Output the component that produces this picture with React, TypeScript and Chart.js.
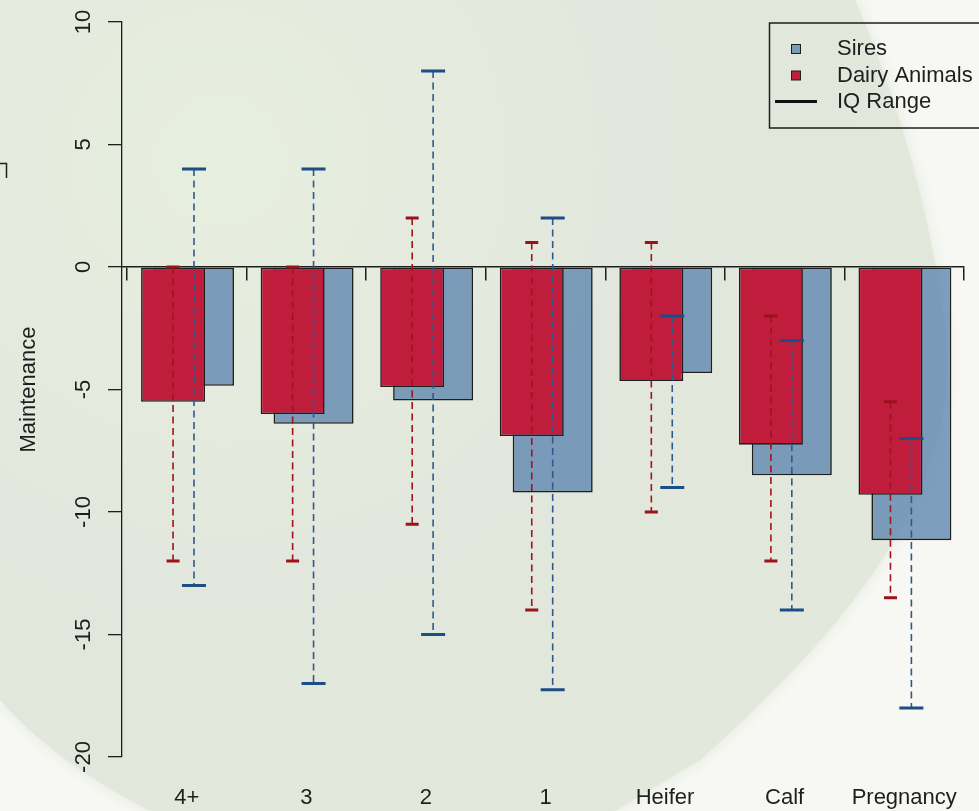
import React, { useEffect, useRef } from "react";
import { Chart, registerables } from "chart.js";

Chart.register(...registerables);

// ---------- data ----------
const categories = ["4+", "3", "2", "1", "Heifer", "Calf", "Pregnancy"];
const dairyMeans = [-5.5, -6.0, -4.9, -6.9, -4.65, -7.25, -9.3];
const siresMeans = [-4.85, -6.4, -5.45, -9.2, -4.33, -8.5, -11.15];
const dairyIqLow = [-12, -12, -10.5, -14, -10, -12, -13.5];
const dairyIqHigh = [0, 0, 2, 1, 1, -2, -5.5];
const siresIqLow = [-13, -17, -15, -17.25, -9, -14, -18];
const siresIqHigh = [4, 4, 8, 2, -2, -3, -7];
const yTicks = [-20, -15, -10, -5, 0, 5, 10];
const legendLabels = ["Sires", "Dairy Animals", "IQ Range"];

// ---------- style ----------
const FONT = "'Liberation Sans', Arial, Helvetica, sans-serif";
const RED = "#c01c3c";
const BLUE = "rgba(95,135,175,0.8)";
const BLUE_KEY = "#7b9bb6";
const RED_ERR = "#a3121f";
const RED_CAP = "#9c1219";
const BLUE_ERR = "#2c5a8c";
const BLUE_CAP = "#1c4d84";
const INK = "#1e1e1e";

// group geometry (in group units)
const groupLo = -0.542;
const groupHi = 6.5;
const redOffset = -0.115;
const blueOffset = 0.06;
const groupIdx = categories.map((_, i) => i);
const boundaries = [...categories.map((_, i) => i - 0.5), categories.length - 0.5];

const backgroundPlugin = {
  id: "bgPhoto",
  beforeDraw(chart: any) {
    const { ctx, width, height } = chart;
    ctx.save();
    ctx.fillStyle = "#f7f7f4";
    ctx.fillRect(0, 0, width, height);
    const g = ctx.createRadialGradient(220, 160, 0, 220, 160, 820);
    g.addColorStop(0, "#e7efdf");
    g.addColorStop(0.55, "#e2e7dd");
    g.addColorStop(1, "#e3e8dc");
    ctx.fillStyle = g;
    ctx.shadowColor = "rgba(225,232,218,0.9)";
    ctx.shadowBlur = 14;
    ctx.beginPath();
    ctx.moveTo(0, 0);
    ctx.lineTo(855, 0);
    ctx.bezierCurveTo(890, 80, 930, 200, 945, 330);
    ctx.bezierCurveTo(960, 470, 880, 600, 700, 760);
    ctx.lineTo(615, 811);
    ctx.lineTo(150, 811);
    ctx.bezierCurveTo(90, 780, 40, 745, 0, 700);
    ctx.closePath();
    ctx.fill();
    ctx.shadowBlur = 0;
    ctx.strokeStyle = INK;
    ctx.lineWidth = 1.5;
    ctx.beginPath();
    ctx.moveTo(0, 163.5);
    ctx.lineTo(6.5, 163.5);
    ctx.lineTo(6.5, 178);
    ctx.stroke();
    ctx.restore();
  },
};

const iqPlugin = {
  id: "iqRange",
  afterDatasetsDraw(chart: any) {
    const { ctx } = chart;
    const y = chart.scales.y;
    const sets = [
      { scale: chart.scales.xRed, lo: dairyIqLow, hi: dairyIqHigh, line: RED_ERR, cap: RED_CAP, capW: 13 },
      { scale: chart.scales.xBlue, lo: siresIqLow, hi: siresIqHigh, line: BLUE_ERR, cap: BLUE_CAP, capW: 24 },
    ];
    ctx.save();
    for (const s of sets) {
      groupIdx.forEach((i) => {
        const x = s.scale.getPixelForValue(i);
        const yHi = y.getPixelForValue(s.hi[i]);
        const yLo = y.getPixelForValue(s.lo[i]);
        ctx.setLineDash([7, 4.5]);
        ctx.strokeStyle = s.line;
        ctx.lineWidth = 1.6;
        ctx.beginPath();
        ctx.moveTo(x, yHi);
        ctx.lineTo(x, yLo);
        ctx.stroke();
        ctx.setLineDash([]);
        ctx.strokeStyle = s.cap;
        ctx.lineWidth = 3;
        ctx.beginPath();
        ctx.moveTo(x - s.capW / 2, yHi);
        ctx.lineTo(x + s.capW / 2, yHi);
        ctx.moveTo(x - s.capW / 2, yLo);
        ctx.lineTo(x + s.capW / 2, yLo);
        ctx.stroke();
      });
    }
    ctx.restore();
  },
};

const legendPlugin = {
  id: "boxLegend",
  afterDraw(chart: any) {
    const { ctx } = chart;
    ctx.save();
    ctx.strokeStyle = INK;
    ctx.lineWidth = 1.5;
    ctx.strokeRect(769.5, 23, 230, 105);
    const rows = [49, 75.5, 101.5];
    const markerX = 796;
    ctx.lineWidth = 1;
    ctx.fillStyle = BLUE_KEY;
    ctx.fillRect(markerX - 4.5, rows[0] - 4.5, 9, 9);
    ctx.strokeRect(markerX - 4.5, rows[0] - 4.5, 9, 9);
    ctx.fillStyle = RED;
    ctx.fillRect(markerX - 4.5, rows[1] - 4.5, 9, 9);
    ctx.strokeRect(markerX - 4.5, rows[1] - 4.5, 9, 9);
    ctx.strokeStyle = "#111";
    ctx.lineWidth = 3;
    ctx.beginPath();
    ctx.moveTo(775, rows[2]);
    ctx.lineTo(817, rows[2]);
    ctx.stroke();
    ctx.fillStyle = INK;
    ctx.font = `22px ${FONT}`;
    ctx.textBaseline = "middle";
    ctx.textAlign = "left";
    legendLabels.forEach((t, i) => ctx.fillText(t, 837, rows[i]));
    ctx.restore();
  },
};

export default function App() {
  const ref = useRef<HTMLCanvasElement | null>(null);

  useEffect(() => {
    if (!ref.current) return;
    Chart.defaults.font.family = FONT;
    const chart = new Chart(ref.current, {
      type: "bar",
      data: {
        datasets: [
          {
            label: "Dairy Animals",
            data: dairyMeans.map((v, i) => ({ x: i, y: v })),
            xAxisID: "xRed",
            yAxisID: "y",
            backgroundColor: RED,
            borderColor: INK,
            borderWidth: 1.6,
            borderSkipped: false,
            grouped: false,
            categoryPercentage: 1,
            barPercentage: 0.535,
          },
          {
            label: "Sires",
            data: siresMeans.map((v, i) => ({ x: i, y: v })),
            xAxisID: "xBlue",
            yAxisID: "y",
            backgroundColor: BLUE,
            borderColor: INK,
            borderWidth: 1.6,
            borderSkipped: false,
            grouped: false,
            categoryPercentage: 1,
            barPercentage: 0.669,
          },
        ],
      },
      options: {
        animation: false,
        responsive: false,
        events: [],
        layout: { padding: { left: 0, top: 22, right: 15, bottom: 0 } },
        plugins: { legend: { display: false }, tooltip: { enabled: false } },
        scales: {
          y: {
            type: "linear",
            position: "left",
            min: -20,
            max: 10,
            afterBuildTicks: (s: any) => {
              s.ticks = yTicks.map((v) => ({ value: v }));
            },
            afterFit: (s: any) => {
              s.width = 122;
            },
            grid: { drawOnChartArea: false, drawTicks: true, tickLength: 14, color: INK, lineWidth: 1.3 },
            border: { display: true, color: INK, width: 1.3 },
            ticks: {
              minRotation: 90,
              maxRotation: 90,
              crossAlign: "center",
              padding: 8,
              color: INK,
              font: { size: 22, family: FONT },
            },
            title: {
              display: true,
              text: "Maintenance",
              color: INK,
              font: { size: 22, family: FONT },
              padding: { top: 16, bottom: 0 },
            },
          },
          xRed: {
            type: "linear",
            display: false,
            offset: false,
            bounds: "data",
            grid: { offset: false },
            min: groupLo - redOffset,
            max: groupHi - redOffset,
            afterBuildTicks: (s: any) => {
              s.ticks = groupIdx.map((v) => ({ value: v }));
            },
          },
          xBlue: {
            type: "linear",
            display: false,
            offset: false,
            bounds: "data",
            grid: { offset: false },
            min: groupLo - blueOffset,
            max: groupHi - blueOffset,
            afterBuildTicks: (s: any) => {
              s.ticks = groupIdx.map((v) => ({ value: v }));
            },
          },
          xZero: {
            type: "linear",
            position: { y: 0 },
            offset: false,
            bounds: "data",
            min: groupLo,
            max: groupHi,
            afterBuildTicks: (s: any) => {
              s.ticks = boundaries.map((v) => ({ value: v }));
            },
            grid: { offset: false, drawOnChartArea: false, drawTicks: true, tickLength: 13, color: INK, lineWidth: 1.5 },
            border: { display: true, color: INK, width: 1.5 },
            ticks: { display: false },
          },
          x: {
            type: "linear",
            position: "bottom",
            offset: false,
            bounds: "data",
            min: groupLo,
            max: groupHi,
            afterBuildTicks: (s: any) => {
              s.ticks = groupIdx.map((v) => ({ value: v }));
            },
            afterFit: (s: any) => {
              s.height = 54;
            },
            grid: { offset: false, display: false, drawTicks: true, tickLength: 28 },
            border: { display: false },
            ticks: {
              callback: (_v: any, i: number) => categories[i],
              autoSkip: false,
              minRotation: 0,
              maxRotation: 0,
              padding: 0,
              color: INK,
              font: { size: 22, family: FONT },
            },
          },
        },
      } as any,
      plugins: [backgroundPlugin, iqPlugin, legendPlugin],
    });
    return () => chart.destroy();
  }, []);

  return (
    <canvas
      ref={ref}
      width={979}
      height={811}
      style={{ position: "fixed", left: 0, top: 0, display: "block" }}
    />
  );
}
